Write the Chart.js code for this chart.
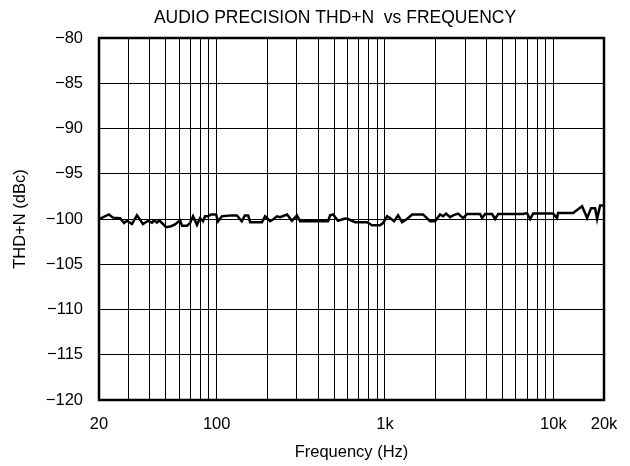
<!DOCTYPE html>
<html>
<head>
<meta charset="utf-8">
<title>THD+N vs Frequency</title>
<script src="https://cdn.jsdelivr.net/npm/chart.js@4.4.1/dist/chart.umd.min.js"></script>
<style>
    html, body { margin: 0; padding: 0; background: #fff; }
    canvas { display: block; }
</style>
</head>
<body>
<canvas id="thdChart" width="630" height="466"></canvas>
<script>
// Frequency points (Hz) and THD+N readings (dBc)
const freqs = [20, 22.9, 24.2, 26.7, 28.2, 29.3, 31.4, 33.6, 36.5, 39.1, 41.3, 42.4, 44.2, 45.5, 48.0, 50.0,
    53.6, 56.6, 60.6, 62.3, 66.7, 69.5, 72.4, 76.4, 79.7, 83.0, 85.3, 88.9, 92.6, 99.2, 101.9, 107.6,
    123, 132, 141, 147, 154, 158, 186, 194, 208, 216, 228, 238, 262, 280, 300, 313,
    459, 472, 492, 526, 579, 603, 664, 782, 838, 935, 974, 1029, 1072, 1132, 1196, 1263,
    1352, 1448, 1684, 1853, 1984, 2124, 2213, 2306, 2436, 2538, 2718, 2911, 3075, 3670, 3773, 3932,
    4326, 4508, 4698, 6612, 6985, 7277, 7582, 9968, 10527, 10672, 13107, 14826, 15873, 16767, 17709, 18199,
    18961, 20000];

const thdn = [-100, -99.5, -99.85, -99.9, -100.45, -100.2, -100.55, -99.6, -100.55, -100.2, -100.4, -100.15, -100.4, -100.15, -100.55, -100.9,
    -100.8, -100.6, -100.15, -100.75, -100.75, -100.45, -99.7, -100.65, -99.9, -100.25, -99.7, -99.7, -99.5, -99.5, -100.25, -99.7,
    -99.6, -99.6, -100.25, -99.6, -99.6, -100.35, -100.35, -99.7, -100.25, -100.05, -99.7, -99.8, -99.5, -100.2, -99.6, -100.25,
    -100.25, -99.6, -99.5, -100.2, -99.95, -100, -100.35, -100.35, -100.7, -100.7, -100.45, -99.7, -99.9, -100.25, -99.6, -100.35,
    -100, -99.5, -99.5, -100.25, -100.25, -99.5, -99.7, -99.4, -99.8, -99.6, -99.4, -99.9, -99.45, -99.45, -99.9, -99.45,
    -99.45, -100, -99.45, -99.45, -99.35, -100, -99.4, -99.4, -99.9, -99.35, -99.35, -98.6, -99.9, -98.8, -98.8, -100,
    -98.5, -98.5];

// Vertical grid positions and the few that carry a label
const xTicks = [20, 30, 40, 50, 60, 70, 80, 90, 100, 200, 300, 400, 500, 600, 700, 800, 900,
    1000, 2000, 3000, 4000, 5000, 6000, 7000, 8000, 9000, 10000, 20000];
const xTickLabels = { 20: '20', 100: '100', 1000: '1k', 10000: '10k', 20000: '20k' };

const yMin = -120;
const yMax = -80;
const yStep = 5;

const chartTitle = 'AUDIO PRECISION THD+N  vs FREQUENCY';

const FONT = 'Liberation Sans, Arial, Helvetica, sans-serif';
const FS = 16.5;

// Title sits a little left of the plot centre in the original, so draw it ourselves
const titlePlugin = {
    id: 'apTitle',
    afterDraw(chart) {
        const { ctx } = chart;
        ctx.save();
        ctx.fillStyle = '#000';
        ctx.font = `17.5px ${FONT}`;
        ctx.textAlign = 'center';
        ctx.textBaseline = 'middle';
        ctx.fillText(chartTitle, 335, 18.5);
        ctx.restore();
    }
};

// Heavy frame round the plot area
const framePlugin = {
    id: 'frame',
    afterDraw(chart) {
        const { ctx, chartArea: a } = chart;
        ctx.save();
        ctx.strokeStyle = '#000';
        ctx.lineWidth = 2.5;
        ctx.strokeRect(a.left, a.top, a.right - a.left, a.bottom - a.top);
        ctx.restore();
    }
};

const ctx = document.getElementById('thdChart');

new Chart(ctx, {
    type: 'line',
    data: {
        datasets: [{
            label: 'THD+N',
            data: freqs.map((f, i) => ({ x: f, y: thdn[i] })),
            borderColor: '#000',
            borderWidth: 2.5,
            pointRadius: 0,
            tension: 0,
            fill: false
        }]
    },
    options: {
        responsive: false,
        animation: false,
        devicePixelRatio: 1,
        layout: { padding: { left: 0, right: 26, top: 38, bottom: 0 } },
        plugins: {
            legend: { display: false },
            tooltip: { enabled: false },
            title: { display: false }
        },
        scales: {
            x: {
                type: 'logarithmic',
                min: 20,
                max: 20000,
                afterBuildTicks: (scale) => {
                    scale.ticks = xTicks.map(v => ({ value: v }));
                },
                afterFit: (scale) => {
                    // fixed band under the plot; edge labels fit in the margins already
                    scale.height = 66;
                    scale.paddingLeft = 0;
                    scale.paddingRight = 0;
                },
                grid: { color: '#000', lineWidth: 1, drawTicks: false },
                border: { display: false },
                ticks: {
                    autoSkip: false,
                    maxRotation: 0,
                    padding: 15,
                    color: '#000',
                    font: { family: FONT, size: FS },
                    callback: (value) => xTickLabels[value] || ''
                },
                title: {
                    display: true,
                    text: 'Frequency (Hz)',
                    color: '#000',
                    font: { family: FONT, size: FS },
                    padding: { top: 4, bottom: 4 }
                }
            },
            y: {
                min: yMin,
                max: yMax,
                afterFit: (scale) => { scale.width = 99; },
                grid: { color: '#000', lineWidth: 1, drawTicks: false },
                border: { display: false },
                ticks: {
                    stepSize: yStep,
                    padding: 16,
                    color: '#000',
                    font: { family: FONT, size: FS },
                    callback: (value) => String(value).replace('-', '\u2212')
                },
                title: {
                    display: true,
                    text: 'THD+N (dBc)',
                    color: '#000',
                    font: { family: FONT, size: FS },
                    padding: { top: 10.8, bottom: 4 }
                }
            }
        }
    },
    plugins: [framePlugin, titlePlugin]
});
</script>
</body>
</html>
